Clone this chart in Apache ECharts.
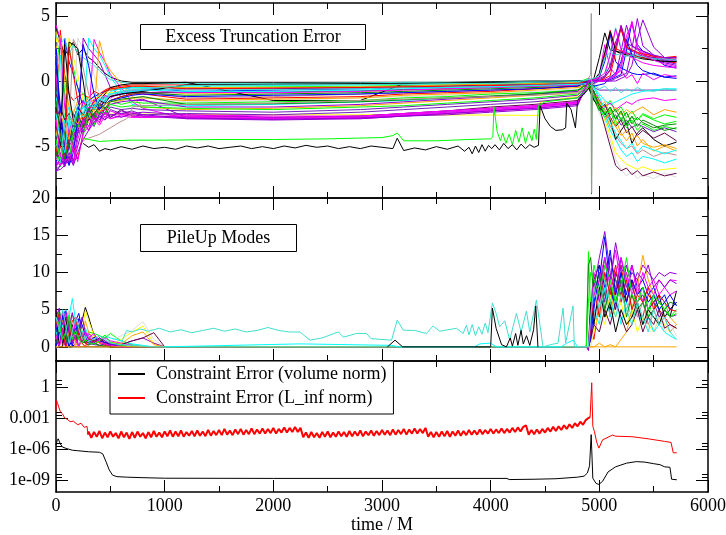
<!DOCTYPE html>
<html><head><meta charset="utf-8">
<script src="https://cdn.jsdelivr.net/npm/echarts@6/dist/echarts.min.js"></script>
<style>html,body{margin:0;padding:0;background:#fff}#c{width:726px;height:535px}</style>
</head><body><div id="c"></div>
<script>
// ---------- DATA ----------
const xTickLabels = [0, 1000, 2000, 3000, 4000, 5000, 6000];
const truncTickValues = [-5, 0, 5];
const pileTickValues = [0, 5, 10, 15, 20];
const constraintTickExponents = [-9, -6, -3, 0];
const constraintTickLabels = ['1e-09', '1e-06', '0.001', '1'];

// Excess truncation error: common time grid and one value list per line
const truncTimes = [0,40,80,120,160,200,250,300,350,400,450,500,600,700,800,1200,2000,2800,3200,3600,4000,4400,4800,4900,4950,5000,5050,5100,5150,5200,5250,5300,5350,5400,5500,5600,5710];
const truncLines = [
 [4.2,3.0,2.0,2.5,3.0,2.0,2.5,1.8,1.5,1.0,0.6,0.3,0.0,-0.1,-0.1, -0.1,-0.1,-0.1,-0.1,-0.1,-0.05,0,0, 0,0.2,1.8,3.7,2.4,2.3,2.2,2.1,2.0,1.9,1.8,1.7,1.6,1.5],
 [-4,3.9,0.5,-1,-1.5,-1.2,-1,-1.3,-0.8,-1,-0.7,-0.5,-0.4,-0.3,-0.3, -0.3,-0.3,-0.25,-0.2,-0.2,-0.15,-0.1,-0.05, 0,0.1,0.3,2.0,3.9,2.5,2.3,2.2,2.0,1.9,1.8,1.6,1.5,1.4],
 [-5,-6.6,-3,2.5,1,-0.5,-1,-1.5,-1.2,-1,-0.8,-0.6,-0.5,-0.5,-0.4, -0.5,-0.45,-0.4,-0.35,-0.3,-0.25,-0.2,-0.1, 0.2,-1.0,-1.6,-2.0,-1.5,-2.4,-2.0,-2.8,-2.3,-3.0,-2.5,-2.9,-2.6,-2.8],
 [-6.5,-4,3.3,1.5,0.5,-0.5,-2,-1.5,-1.2,-1,-0.8,-0.7,-0.6,-0.5,-0.5, -0.8,-0.7,-0.6,-0.5,-0.5,-0.4,-0.3,-0.2, 0,-0.2,0.3,1.5,3.6,1.5,1.0,0.8,0.6,0.5,0.5,0.6,0.3,0.4],
 [3.8,-3,-4,3.3,1.8,0.5,-1.5,-2.5,-1.5,-1.2,-1,-0.9,-0.8,-0.7,-0.6, -1.0,-0.9,-0.8,-0.7,-0.6,-0.5,-0.4,-0.3, 0,-0.8,-1.6,-3.0,-4.2,-5.5,-6.0,-6.4,-6.6,-6.8,-6.6,-6.9,-6.8,-6.7],
 [-6,-6.3,-6.2,-3.5,3.2,2.5,1,-1,-2,-1.5,-1.3,-1.1,-1,-0.9,-0.8, -1.3,-1.2,-1.0,-0.9,-0.8,-0.7,-0.6,-0.4, 0,-1.0,-2.0,-2.6,-3.5,-4.2,-4.8,-5.2,-5.0,-5.6,-5.3,-5.8,-5.5,-5.7],
 [2,1,-5,-6.2,-3,3.3,2.5,1.5,0.5,-1,-2,-1.8,-1.5,-1.3,-1.2, -1.6,-1.5,-1.3,-1.2,-1.1,-0.9,-0.8,-0.6, 0,-1.3,-2.5,-3.3,-4.5,-6.0,-6.8,-7.3,-7.0,-7.5,-7.2,-7.5,-7.1,-7.4],
 [-4,-3.5,-4,-5,-6.2,-4,3.3,2.5,2,1.5,0.5,-0.5,-1.2,-1.5,-1.4, -2.8,-2.9,-2.8,-2.6,-2.4,-2.2,-2.0,-1.6, -0.5,-0.2,0,0.1,0.2,0.4,2.3,4.3,2.7,2.4,2.1,1.6,1.4,1.2],
 [-2,2,-4,-4.5,-4.5,-4,-3.5,3.3,2.5,2.0,1.2,0.3,-0.8,-1.8,-1.9, -1.9,-1.8,-1.6,-1.5,-1.3,-1.2,-1.0,-0.8, -0.3,-1.2,-2.0,-2.8,-3.8,-4.5,-5.3,-5.8,-5.5,-6.2,-5.8,-6.0,-6.3,-6.0],
 [0.5,-3,-4,-4.2,-4,-4,-3.8,-3,3.2,2.2,1.5,0.5,-0.5,-1.6,-2.1, -2.9,-2.9,-2.8,-2.6,-2.5,-2.3,-2.1,-1.8, 0.2,0,0.5,2.8,1.0,0.5,0.8,0.2,0.5,-0.2,0.6,0.1,0.5,0.3],
 [-3,-4,-4,-4,-3.8,-3.5,-3.5,-3.2,-2.5,3.1,1.5,0.8,-0.2,-1.2,-2.0, -2.2,-2.1,-1.9,-1.7,-1.5,-1.3,-1.1,-0.9, 0,-1.0,-1.8,-2.4,-3.5,-3.0,-4.0,-4.6,-4.0,-5.0,-4.5,-5.4,-5.0,-5.4],
 [-7,-6.5,-5,-4.5,-4.2,-4,-3.5,-2.8,-3.5,-2.5,-3,-2.2,-2.5,-2.3,-2.6, -2.5,-2.6,-2.4,-2.2,-2.0,-1.8,-1.6,-1.3, -0.3,-0.5,-0.7,-0.7,-0.7,-0.7,-0.7,-0.7,-0.7,-0.7,-0.7,-0.7,-0.7,-0.7],
 [-6.5,-6,-6.5,-4.5,-4,-3.8,-3,-3.8,-2.8,-3.2,-2,-2.8,-2.2,-2.7,-2.8, -2.7,-2.8,-2.7,-2.5,-2.3,-2.0,-1.8,-1.5, -0.2,-1.0,-2.0,-3.5,-5.0,-6.5,-6.9,-6.7,-7.2,-6.9,-7.3,-7.0,-7.3,-7.1],
 [3.5,2.8,3.3,2.0,2.8,2.2,1.8,1.5,1.2,0.8,0.4,0.1,-0.1,-0.2,-0.2, -0.2,-0.2,-0.15,-0.1,-0.1,-0.1,-0.05,0, 0,0,0.1,0.3,2.1,4.1,2.6,2.3,2.1,2.0,1.9,1.7,1.6,1.6],
 [-5.5,-6,-4,-4.5,-3,-3.5,-2.5,-3,-2,-2.5,-1.8,-1.5,-1.2,-1.0,-0.9, -1.1,-1.0,-0.9,-0.8,-0.7,-0.6,-0.5,-0.4, -0.4,-1.4,-2.3,-1.8,-2.6,-2.2,-3.0,-2.4,-3.3,-2.8,-3.2,-3.6,-3.4,-3.3],
 [-2,-3.5,-4,3.0,2.8,2.5,0,-3,-2,-1.5,-1,-0.5,-0.3,-0.2,-0.2, -0.1,-1.5,-1.5,-0.2,-0.2,-0.15,-0.1,-0.05, -0.5,-1.5,-2.0,-2.5,-3.0,-4.5,-3.8,-3.2,-4.8,-4.0,-3.6,-4.5,-5.0,-4.7],
 [-6,-5,-6.2,-4,-5,-6,-4,-2.5,-3.0,-2.0,-2.5,-1.5,-1.2,-1.0,-1.0, -1.4,-1.3,-1.2,-1.0,-0.9,-0.8,-0.6,-0.4, 0,0,0,0.2,0.4,2.2,4.2,2.6,2.4,2.2,2.0,1.8,1.7,1.8],
 [1,3.3,-1,-3,-3.5,-2,-3,-2.2,-2.6,-1.8,-2.2,-1.5,-1.8,-1.6,-1.7, -1.7,-1.6,-1.5,-1.3,-1.2,-1.0,-0.9,-0.7, -0.5,-0.3,-1.5,-2.5,-2.0,-3.0,-2.4,-3.2,-2.8,-3.0,-2.6,-3.0,-3.3,-3.1],
 [3,-4,-6.5,-5,-3,-2,-1.5,-2.8,-1.8,-2.2,-1.5,-1.2,-1.0,-0.8,-0.7, -0.6,-0.6,-0.5,-0.4,-0.4,-0.3,-0.25,-0.15, 0,0,0,0,0.1,0.3,0.5,2.4,4.5,2.8,2.3,1.9,1.2,1.0],
 [-6.8,-6.5,-6,-6.4,-5,-4,-2.8,-3.5,-2.5,-3.0,-2.4,-2.8,-2.3,-2.5,-2.4, -2.6,-2.8,-2.7,-2.5,-2.3,-2.1,-1.9,-1.6, 0,0,0,0,0,0.2,0.4,0.6,2.5,4.8,2.7,2.0,1.5,1.3],
 [-4,-5,-3,-2,-3,-2.5,-2,-1.5,-2,-1,-1.4,-0.8,-0.6,-0.5,-0.5, -0.4,-0.35,-0.3,-0.25,-0.2,-0.2,-0.1,0, -0.2,-0.5,-1.0,-1.5,-1.8,-1.6,-1.4,-1.2,-1.0,-0.9,-0.8,-0.7,-0.6,-0.6],
 [-6.2,-6.5,-5.5,-6.3,-4.8,-3.5,-2.5,-2,-3,-2.2,-2.8,-2.3,-2.6,-2.4,-2.7, -2.8,-2.9,-2.9,-2.7,-2.5,-2.3,-2.0,-1.7, -0.3,-0.8,-1.5,-2.0,-1.7,-2.2,-1.9,-1.6,-1.8,-1.5,-1.4,-1.3,-1.5,-1.4],
 [2.5,3.5,0,-2,-2.5,-1.5,-2,-1.2,-1.6,-1.0,-0.9,-0.7,-0.5,-0.4,-0.4, -0.5,-0.5,-0.45,-0.4,-0.3,-0.25,-0.2,-0.1, 0,-1.0,-2.0,-1.6,-2.5,-2.0,-2.6,-2.2,-2.5,-2.2,-2.0,-2.6,-2.2,-2.4],
 [-3,-2,-5,-6.3,-4,-3,-3.3,-2.5,-3,-2.4,-2.6,-2.0,-2.2,-2.1,-2.2, -2.3,-2.4,-2.2,-2.0,-1.8,-1.6,-1.4,-1.1, -0.2,-1.2,-1.8,-2.2,-3.0,-2.6,-3.4,-3.0,-3.6,-3.3,-3.5,-3.9,-3.6,-3.9],
 [-1,-2,-3,-2.5,-3.5,-2.5,-3.5,-3,-2.5,-2,-1.5,-1.2,-1,-0.9,-0.9, -0.9,-0.85,-0.75,-0.65,-0.6,-0.5,-0.4,-0.3, 0,-0.8,-2.2,-1.8,-2.8,-3.5,-3.0,-4.0,-3.5,-4.2,-3.8,-4.4,-4.0,-4.6],
 [-5,-4,-4.5,-3.5,-2.5,-3,-2,-2.5,-1.5,-1.8,-1.2,-1.0,-0.8,-0.6,-0.6, -0.7,-0.65,-0.6,-0.5,-0.45,-0.4,-0.3,-0.2, 0.1,-0.3,-0.6,-0.4,-0.8,-0.5,-0.9,-0.6,-0.8,-0.5,-0.7,-0.8,-0.6,-0.7],
 [-6,-5.5,-6.5,-5,-4.5,-3,-4,-2.8,-3.2,-2.6,-2.2,-1.8,-1.6,-1.5,-1.5, -2.0,-2.0,-1.8,-1.6,-1.4,-1.2,-1.0,-0.8, 0,0,0.2,0.4,1.2,3.0,4.0,2.5,2.3,2.1,1.9,1.8,1.6,1.7],
 [4.3,3.2,-2,-4,-2.5,-3.2,-1.5,-2.4,-1.4,-1.9,-1.1,-1.3,-0.9,-0.7,-0.7, -0.9,-0.9,-0.8,-0.7,-0.6,-0.5,-0.4,-0.3, 0,0,0,0,0.2,0.4,1.0,3.0,4.6,2.6,2.2,1.9,1.7,1.5],
 [-3.5,-5,2.8,-1,-3,-2,-2.6,-1.8,-2.2,-1.5,-1.7,-1.2,-1.0,-0.9,-0.8, -0.3,-0.25,-0.2,-0.2,-0.15,-0.1,-0.1,0, 0,0.1,0.6,2.2,3.8,2.3,2.1,2.0,1.9,1.8,1.7,1.6,1.5,1.5],
 [-5.5,-4,-6,2.6,0.5,-1.5,-3,-2.2,-1.6,-1.2,-0.8,-0.6,-0.5,-0.4,-0.4, -0.6,-0.55,-0.5,-0.45,-0.4,-0.35,-0.3,-0.2, 0,0,0,0.3,0.8,2.6,4.1,2.6,2.4,2.2,2.1,1.9,1.8,1.9],
 [-4.5,-6,-5,-6,-4,-3.3,-4.2,-2.5,-3.4,-2.2,-2.6,-1.8,-2.0,-1.9,-2.0, -2.1,-2.2,-2.0,-1.9,-1.7,-1.5,-1.3,-1.0, -0.3,-1.1,-2.2,-2.8,-2.2,-3.4,-2.8,-3.6,-3.0,-3.8,-3.3,-3.8,-3.5,-3.7],
 [1.5,-2,-5.5,-6.5,-5.5,-3,2.8,1.2,-1,-2.2,-1.8,-1.5,-1.3,-1.1,-1.0, -1.2,-1.1,-1.0,-0.9,-0.8,-0.7,-0.6,-0.4, 0,-0.4,-0.3,-0.2,0.3,0.6,1.5,3.2,2.0,1.2,0.8,0.5,0.3,0.2],
 [-6.6,-6,-6.6,-5.5,-6.3,-5,-3.5,-2.2,-3.0,-2.8,-2.5,-2.6,-2.5,-2.6,-2.7, -2.9,-3.0,-2.9,-2.7,-2.6,-2.4,-2.2,-1.9, 0,0,0,0,0,0,0.2,0.4,1.2,3.2,4.7,2.6,1.8,1.6],
 [-2.5,-4.5,-5.5,-3,-4,-2.2,-2.8,-1.8,-2.2,-1.4,-1.6,-1.0,-0.9,-0.8,-0.7, -0.8,-0.8,-0.7,-0.6,-0.5,-0.45,-0.35,-0.25, -0.2,-0.6,-1.2,-2.2,-3.2,-4.0,-4.6,-5.2,-4.8,-5.5,-5.0,-5.3,-5.6,-5.3],
 [-6.4,-6.2,-6.5,-6,-5.2,-6.2,-4,-3.5,-2.6,-3.2,-2.4,-2.9,-2.6,-2.7,-2.8, -2.7,-2.85,-2.8,-2.6,-2.4,-2.2,-2.0,-1.7, 0,0.1,0.3,0.6,2.0,4.0,2.4,2.1,1.8,1.6,1.4,1.2,1.1,1.0],
 [-4.2,-2.5,-3.5,-4.5,-2.8,-3.3,-2.5,-2.9,-2.0,-2.4,-1.8,-1.6,-1.5,-1.3,-1.3, -1.5,-1.4,-1.3,-1.1,-1.0,-0.9,-0.7,-0.5, -0.3,-1.0,-1.6,-2.2,-2.9,-3.5,-4.2,-3.8,-4.5,-4.2,-4.8,-5.1,-4.9,-5.2],
 [-1.5,-4.2,-6,-4.8,-3.8,-2.6,-3.6,-2.1,-2.8,-1.7,-2.1,-1.6,-1.4,-1.3,-1.2, -1.8,-1.75,-1.6,-1.45,-1.3,-1.15,-1.0,-0.7, -0.2,-0.9,-1.8,-2.6,-2.0,-2.9,-2.3,-3.4,-2.7,-3.5,-3.0,-3.4,-3.8,-3.6],
 [-5.8,-6.3,-3.5,-2.6,-3.4,-1.8,-2.5,-1.6,-2.0,-1.3,-1.5,-1.0,-0.8,-0.7,-0.6, -0.35,-0.3,-0.28,-0.25,-0.2,-0.18,-0.1,-0.05, 0.1,0.2,0.4,1.8,2.2,2.0,2.1,1.9,2.0,1.8,1.9,1.7,1.7,1.6],
 [-3,-5.8,-6.2,-5.8,-6.4,-4.5,-3,-3.8,-2.9,-3.4,-2.7,-2.9,-2.7,-2.8,-2.8, -2.6,-2.7,-2.7,-2.5,-2.3,-2.1,-1.9,-1.6, 0,0,0,0,0.2,0.5,1.3,3.5,4.4,2.5,2.0,1.6,1.3,1.1],
 [-6.9,-6.8,-6.5,-5.8,-6.5,-5.5,-4.5,-3.8,-3.2,-2.7,-3.0,-2.6,-2.8,-2.5,-2.6, -2.85,-2.95,-2.85,-2.7,-2.5,-2.3,-2.1,-1.8, 0,0,0.1,0.3,0.9,2.6,4.3,2.9,2.7,2.5,2.3,2.0,1.8,1.8]
];
const truncColors = ['#000000','#ff0000','#00ff00','#0000ff','#ffff00','#bc8f8f','#dcdcdc','#9400d3','#00ffff','#ff00ff','#ffa500','#7221bc','#670748','#40e0d0','#008b00','#000000','#ff0000','#00ff00','#0000ff','#9400d3','#00ffff','#ff00ff','#ffa500','#7221bc','#670748','#40e0d0','#9400d3','#ff00ff',
 '#000000','#ff0000','#00ff00','#0000ff','#9400d3','#00ffff','#ff00ff','#ffa500','#008b00','#40e0d0','#ff00ff','#9400d3'];

const truncYellowLine = [[380,-2.55],[1000,-2.55],[2000,-2.6],[3000,-2.6],[4000,-2.62],[4450,-2.65],[4460,-1.6],[4800,-1.2],[4900,-0.6]];
const truncBrownLine = [[250,-4.6],[300,-4.4],[400,-4.1],[500,-3.6],[590,-3.15],[650,-2.9],[690,-2.6],[700,-2.0],[800,-1.9],[1200,-1.8],[2000,-1.7],[2800,-1.5],[3600,-1.3],[4400,-1.1],[4800,-0.9],[4900,-0.4]];
const truncLowGreen = [[250,-4.4],[300,-4.5],[400,-4.65],[500,-4.6],[700,-4.55],[1000,-4.55],[1500,-4.5],[2000,-4.5],[2500,-4.45],[3000,-4.35],[3100,-4.2],[3140,-4.0],[3200,-4.6],[3500,-4.6],[3800,-4.5],[4000,-4.45],[4020,-4.3],[4030,-2.0],[4060,-3.9],[4090,-4.6],[4110,-4.0],[4140,-4.8],[4170,-4.1],[4200,-4.9],[4230,-3.8],[4260,-4.7],[4290,-3.6],[4320,-4.8],[4350,-3.9],[4380,-4.6],[4400,-3.7],[4420,-4.5],[4440,-1.9],[4500,-1.6],[4700,-1.4],[4800,-1.3],[4900,-0.5]];
const truncLowBlack = [[250,-4.8],[300,-5.1],[350,-4.9],[400,-5.4],[450,-5.2],[500,-5.3],[600,-5.05],[700,-5.25],[800,-5.0],[900,-5.2],[1000,-5.1],[1100,-5.25],[1200,-5.0],[1300,-5.15],[1400,-5.0],[1500,-5.2],[1600,-5.1],[1700,-5.0],[1800,-5.2],[1900,-5.05],[2000,-5.2],[2100,-5.0],[2200,-5.15],[2300,-4.95],[2400,-5.1],[2500,-5.0],[2600,-5.2],[2700,-5.05],[2800,-5.2],[2900,-5.0],[3000,-5.1],[3100,-5.2],[3140,-4.4],[3200,-5.35],[3300,-5.15],[3400,-5.3],[3500,-5.05],[3600,-5.25],[3700,-5.0],[3760,-5.4],[3800,-5.1],[3830,-5.6],[3860,-5.0],[3890,-5.5],[3920,-4.9],[3950,-5.4],[3980,-4.95],[4010,-5.2],[4040,-4.9],[4080,-5.3],[4120,-4.8],[4160,-5.2],[4200,-4.9],[4240,-5.3],[4280,-4.85],[4320,-5.2],[4360,-4.9],[4400,-5.1],[4440,-4.95],[4455,-1.9],[4500,-2.9],[4550,-3.5],[4600,-3.8],[4660,-3.75],[4690,-3.6],[4700,-1.7],[4740,-2.2],[4780,-3.6],[4800,-1.5],[4850,-1.1],[4900,-0.6],[4920,-0.4]];
const truncSpikeGrey = [[4900,0.2],[4920,0.5],[4926,5.2],[4929,-8.6],[4935,0.0],[4960,-0.3]];
const truncSpikeGreen = [[4900,-0.3],[4925,-0.5],[4928,-8.7],[4932,-1.0],[4960,-0.8]];

// PileUp modes
const pileTimes = [0,30,60,90,120,150,180,210,240,270,300,350,400,450,500,600,700,800,900,1000,4880,4900,4920,4950,5000,5050,5100,5150,5200,5250,5300,5350,5400,5450,5500,5550,5600,5650,5710];
const pileLines = [
 [0,5.0,5.0,0,0,0,0.5,2,3.5,5.3,4.0,1.5,1.0,0.5,0,0,0,0,0,0, 0,0,3,9,11,7,5,10,8,6,9,7,8,5,6,7,4,5,6],
 [4.5,2,0,3.5,4.8,1,0,2.5,1.5,0.5,0.2,1.0,0.5,0.2,0,0,0,0,0,0, 0,0,3.5,1,6,9,4,8,11,6,9,5,4,7,6,5,4,3,2.5],
 [2,4.8,3.5,0.5,2,4.5,3,1,0.5,1.5,2.0,1.8,1.5,1.2,1.8,0.8,0.3,0,0,0, 0,12.8,5,11,8,12,6,9,7,10,5,8,6,4,7,5,6,4,5],
 [3,0,4,5,2,0,3.5,4.5,2,1,0.5,0.8,0.6,0.4,0.2,0,0,0,0,0, 0,0,2,6,9,14.8,8,5,10,7,11,8,9,7,8,6,7,5,6],
 [0,1,0,2,3,1,0.5,0,2,4.9,3.5,1.5,0.8,0.5,0.3,1.0,2.0,2.8,0.5,0, 0,0,0,2,5,3,7,4,6,3,5,2,4,3,2,4,3,2,3],
 [1,3,2,0.5,0,1.5,3.5,2,0.5,0,0.2,0.8,1.5,0.8,0.3,0.5,0.2,0,0,0, 0,0,1,4,7,5,9,6,8,5,7,4,6,3,5,3,4,2,3],
 [0,0,1,3,5,2,0,1,2.5,1,0.5,0.3,0.8,0.5,0.8,1.5,2.2,3.4,1.0,0, 0,0,0,3,6,4,8,11,7,5,4,6,3,5,2,4,2,3,1.5],
 [4,5.2,1,0,2.5,4.6,2,0,1,2,1.5,0.6,0.2,0.3,0.5,0.3,0.8,1.2,0.5,0, 0,-0.5,4,8,12,15.5,10,7,12,8,10,9,11,10,9,10,9.5,10,9.8],
 [2,1,3,5,4,6.5,3.5,1,2,2.5,1.5,1.2,1.0,1.5,1.2,0.8,0.4,0.2,0,0, 0,0,2,5,3,8,4,7,3,6,4,5,3,4,2,3,2,1.5,1],
 [5,3,4.5,1,3,0.5,4,3.5,1,0.5,1.8,1.0,0.5,1.2,0.8,0.5,0.2,0,0,0, 0,0,5,10,6,11,9,13,8,10,7,9,6,8,7,9,8,9,8.9],
 [0.5,2,3.5,4,1,2,0.5,0,1,3.5,2,1,0.5,0.3,0.6,0.4,1.5,2.0,0.3,0, 0,0,0,0,0.5,0,0.3,0,1,2,5,8,12.3,9,7,6,5,4,3],
 [3.5,4,0.5,2.5,3.5,1.5,2.5,1,0.5,0.8,0.5,0.3,0.2,0.4,0.2,0.1,0,0,0,0, 0,0,3,7,10,6,12,9,7,11,8,6,7,5,6,4,5,4,4.3],
 [1,0,2.5,1,0.5,3,1,2,0.8,0.5,1,0.8,1.2,0.6,0.4,0.3,0.8,1.2,1.9,0, 0,0,1,3,2,5,3,6,4,2,3,5,2,4,3,5,2.5,3,2.5],
 [0,3,1.5,0.5,4,2,1,3,1.5,0.5,0.3,0.5,0.2,0.1,0,0,0,0,0,0, 0,11,12,7,10,5,8,6,9,4,7,5,6,4,5,6,5,6,5.7],
 [5,0,0,4,0,0,0,0,0,0,0,0,0,0,0,0,0,0,0,0, 0,0,6,3,8,4,6,2,5,3,4,6,3,5,4,3,5,4,7.5],
 [3,4.5,2,0,1,3.5,4,1.5,0.5,0,1.2,0.6,1.0,0.4,0.2,0,0,0,0,0, 0,0,2,8,4,10,7,11,6,9,5,7,6,8,5,7,6,5,4.8],
 [0,2,4.2,3,0,1,2,3.8,3,1.5,0.5,1.3,0.8,0.6,0.3,0,0,0,0,0, 0,0,1,5,11,8,13,7,10,6,9,7,8,6,7,5,6,7,5.5],
 [2.5,4,3,4.8,2,0.5,1.5,2,4,2,0.8,0.5,1.2,0.8,0.4,0.2,0,0,0,0, 0,-0.3,3,9,7,12,9,14,10,11,8,10,9,11,8,9,8,9,8.5],
 [1.5,0,2,4.5,3.5,2.5,1,0,1.5,2,1.2,1.8,0.6,0.4,0.2,0,0,0,0,0, 0,0,4,7,9,12,8,10,12,9,11,7,10,8,9,7,8,7,7.5],
 [4,3,1,2,4.2,1,2.2,1,0.5,1,0.6,0.4,0.8,1.6,0.6,0.2,0,0,0,0, 0,6,10,9,7,11,9,6,8,12,7,6,8,5,7,6,5,4,4.5],
 [0,0,0,0,0,0,0,0,0,0,0,0,0,0,0,0,0,0,0,0, 0,0,0,0,0,0,0,0,0,0,0,0,0,0,0,0,0,0,0],
 [4,2,5,3,0.5,2,4,2.5,1,1.5,0.8,1.0,1.5,1.0,0.5,0.3,0.2,0.1,0,0, 0,0,4,8,5,9,6,4,7,5,3,6,4,2,5,3,4,2,1]
];
const pileColors = ['#000000','#ff0000','#00ff00','#0000ff','#ffff00','#bc8f8f','#dcdcdc','#9400d3','#00ffff','#ff00ff','#ffa500','#7221bc','#670748','#008b00','#000000','#ff0000','#0000ff','#9400d3','#ff00ff','#00ff00','#ffa500','#40e0d0'];
const pileTurquoiseLong = [[600,0.5],[650,2.2],[700,2.0],[780,2.4],[850,2.1],[950,2.5],[1050,2.0],[1150,2.3],[1250,1.9],[1350,2.2],[1450,2.5],[1550,2.1],[1650,2.4],[1750,2.0],[1850,2.2],[1950,2.6],[2050,2.2],[2150,2.0],[2245,2.0],[2337,0.9],[2450,1.2],[2598,2.0],[2644,1.3],[2766,1.8],[2858,1.8],[2900,1.1],[3088,0.9],[3140,3.6],[3195,2.25],[3300,2.2],[3409,1.8],[3470,2.8],[3532,2.1],[3685,2.5],[3746,1.8],[3777,2.9],[3800,1.6],[3830,3.0],[3860,1.5],[3890,2.7],[3920,1.7],[3950,3.2],[3975,1.9],[4016,5.9],[4050,4.5],[4083,2.7],[4130,3.5],[4175,0.9],[4237,4.5],[4280,2.0],[4329,4.8],[4360,2.0],[4421,6.3],[4482,0],[4550,0.3],[4620,0.5],[4666,5.2],[4690,0.5],[4758,5.5],[4770,0],[4900,0]];
const pileCyanLow = [[1000,0],[2245,0.4],[3088,0.2],[3150,0],[3850,0],[3900,0.4],[4000,0.5],[4050,0],[4650,0],[4700,0.5],[4760,0.9],[4800,0]];
const pileBlackSpikes = [[3050,0],[3120,0.9],[3190,0],[4000,0],[4016,5.2],[4050,2.5],[4100,0.3],[4145,0],[4180,1.2],[4200,0.1],[4230,1.8],[4250,0.2],[4280,2.2],[4300,0.4],[4330,1.5],[4360,0.2],[4395,2.3],[4415,5.5],[4435,0]];

// Constraint errors, stored as log10 of the error
const constraintVolumeLog10 = [[0,-5.6],[10,-5.2],[20,-5.0],[40,-5.5],[60,-5.8],[100,-5.95],[150,-6.1],[200,-6.15],[300,-6.25],[400,-6.3],[430,-6.45],[460,-7.2],[490,-8.0],[520,-8.5],[560,-8.65],[650,-8.7],[800,-8.75],[1000,-8.8],[2000,-8.82],[3000,-8.82],[4150,-8.82],[4170,-8.93],[4400,-8.9],[4600,-8.85],[4800,-8.7],[4860,-8.6],[4890,-8.3],[4910,-7.6],[4925,-4.6],[4930,-6.0],[4940,-8.8],[4970,-9.3],[4996,-9.4],[5030,-9.1],[5080,-8.2],[5150,-7.7],[5250,-7.35],[5340,-7.2],[5420,-7.25],[5500,-7.4],[5560,-7.5],[5600,-7.7],[5650,-7.75],[5665,-8.9],[5713,-8.95]];
const constraintLinfStartLog10 = [[0,-2.3],[5,-1.3],[15,-1.6],[25,-1.5],[40,-2.4],[60,-2.6],[80,-3.0],[100,-3.1],[130,-3.35],[160,-3.3],[200,-3.65],[230,-3.5],[260,-3.9],[285,-3.8],[295,-4.6]];
// noisy stretch sampled every 25 M from t = 300 to t = 4900
const constraintLinfBandStart = 300;
const constraintLinfBandStep = 25;
const constraintLinfBandLog10 = [
 -4.3,-4.9,-4.35,-4.8,-4.25,-4.95,-4.4,-4.85, -4.3,-4.8,-4.45,-4.95,-4.3,-4.85,-4.4,-5.0,
 -4.35,-4.9,-4.3,-4.8,-4.45,-4.95,-4.35,-4.85, -4.25,-4.8,-4.4,-4.85,-4.3,-4.75,-4.2,-4.8,
 -4.3,-4.75,-4.2,-4.8,-4.35,-4.7,-4.25,-4.75, -4.2,-4.7,-4.3,-4.75,-4.15,-4.7,-4.25,-4.65,
 -4.15,-4.65,-4.05,-4.6,-4.2,-4.65,-4.1,-4.55, -4.05,-4.6,-4.15,-4.55,-4.0,-4.55,-4.1,-4.5,
 -4.0,-4.5,-4.05,-4.45,-3.95,-4.5,-4.05,-4.4, -3.9,-4.4,-3.95,-4.35,-3.85,-4.35,-3.95,-4.85,
 -4.4,-4.9,-4.35,-4.85,-4.45,-4.9,-4.35,-4.8, -4.3,-4.85,-4.4,-4.8,-4.3,-4.75,-4.35,-4.8,
 -4.25,-4.75,-4.3,-4.7,-4.2,-4.75,-4.3,-4.65, -4.2,-4.7,-4.25,-4.65,-4.15,-4.6,-4.2,-4.65,
 -4.1,-4.6,-4.15,-4.55,-4.05,-4.6,-4.1,-4.5, -4.0,-4.5,-4.05,-4.45,-3.95,-4.8,-4.35,-4.85,
 -4.35,-4.8,-4.3,-4.75,-4.25,-4.8,-4.3,-4.7, -4.2,-4.7,-4.25,-4.65,-4.15,-4.6,-4.2,-4.6,
 -4.1,-4.55,-4.15,-4.5,-4.05,-4.5,-4.1,-4.45, -4.0,-4.45,-4.05,-4.4,-3.95,-4.35,-3.9,-4.3,
 -3.85,-3.7,-4.6,-4.15,-4.55,-4.1,-4.5,-4.05, -4.4,-3.95,-4.3,-3.85,-4.25,-3.8,-4.15,-3.7,
 -4.05,-3.6,-3.95,-3.5,-3.8,-3.35,-3.65,-3.2, -3.0];
const constraintLinfEndLog10 = [[4915,-2.9],[4930,0.4],[4940,-3.8],[4955,-4.3],[4975,-5.3],[4996,-5.9],[5030,-5.1],[5100,-4.75],[5120,-4.65],[5150,-4.75],[5300,-4.8],[5450,-5.0],[5600,-5.25],[5660,-5.35],[5680,-6.35],[5713,-6.35]];

// ---------- CHART ----------
const FONT = 'Liberation Serif';
const chart = echarts.init(document.getElementById('c'), null, {renderer: 'canvas', width: 726, height: 535});

function xAxisPair(gridIndex, withLabels) {
  const base = {
    type: 'value', gridIndex: gridIndex, min: 0, max: 6000, interval: 1000,
    axisLine: {show: true, onZero: false, lineStyle: {color: '#000', width: 1.5}},
    axisTick: {show: true, inside: true, length: 12, lineStyle: {color: '#000', width: 1}},
    minorTick: {show: true, splitNumber: 2, length: 6, lineStyle: {color: '#000', width: 1}},
    splitLine: {show: false}, minorSplitLine: {show: false}
  };
  const bottom = Object.assign({}, base, {
    position: 'bottom',
    axisLabel: withLabels ? {show: true, color: '#000', fontFamily: FONT, fontSize: 18, margin: 5,
      customValues: xTickLabels, formatter: function (v) { return String(v); }} : {show: false}
  });
  if (withLabels) {
    bottom.name = 'time / M';
    bottom.nameLocation = 'middle';
    bottom.nameGap = 23;
    bottom.nameTextStyle = {color: '#000', fontFamily: FONT, fontSize: 18};
  }
  const top = Object.assign({}, base, {position: 'top', axisLabel: {show: false}});
  return [bottom, top];
}

function yAxisSet(gridIndex, min, max, major, minor, fmt) {
  const common = {type: 'value', gridIndex: gridIndex, min: min, max: max,
    splitLine: {show: false}, minorTick: {show: false}, minorSplitLine: {show: false}};
  const line = {show: true, onZero: false, lineStyle: {color: '#000', width: 1.5}};
  const tickStyle = {color: '#000', width: 1};
  return [
    Object.assign({}, common, {position: 'left', axisLine: line,
      axisTick: {show: true, inside: true, length: 12, customValues: major, lineStyle: tickStyle},
      axisLabel: {show: true, customValues: major, formatter: fmt, color: '#000', fontFamily: FONT, fontSize: 18, margin: 6}}),
    Object.assign({}, common, {position: 'right', axisLine: line,
      axisTick: {show: true, inside: true, length: 12, customValues: major, lineStyle: tickStyle},
      axisLabel: {show: false}}),
    Object.assign({}, common, {position: 'left', axisLine: {show: false, onZero: false},
      axisTick: {show: true, inside: true, length: 6, customValues: minor, lineStyle: tickStyle},
      axisLabel: {show: false}}),
    Object.assign({}, common, {position: 'right', axisLine: {show: false, onZero: false},
      axisTick: {show: true, inside: true, length: 6, customValues: minor, lineStyle: tickStyle},
      axisLabel: {show: false}})
  ];
}

const constraintMinor = [];
constraintTickExponents.concat([-12]).forEach(function (e) { constraintMinor.push(e + 0.3, e + 0.6); });

const xAxes = [].concat(xAxisPair(0, false), xAxisPair(1, false), xAxisPair(2, true));
const yAxes = [].concat(
  yAxisSet(0, -9, 6, truncTickValues, [-7.5, -2.5, 2.5], function (v) { return String(v); }),
  yAxisSet(1, -1.9, 20, pileTickValues, [2.5, 7.5, 12.5, 17.5], function (v) { return String(v); }),
  yAxisSet(2, -10.13, 2.5, constraintTickExponents, constraintMinor.filter(function (v) { return v > -10.13 && v < 2.5; }),
    function (v) { const i = constraintTickExponents.indexOf(Math.round(v)); return i >= 0 ? constraintTickLabels[i] : ''; })
);

function lineSeries(data, color, g, name, width) {
  const s = {type: 'line', xAxisIndex: 2 * g, yAxisIndex: 4 * g, data: data, symbol: 'none', showSymbol: false,
    connectNulls: false,
    lineStyle: {color: color, width: width || 1}, itemStyle: {color: color}, emphasis: {disabled: true},
    animation: false, silent: true};
  if (name) { s.name = name; s.itemStyle.opacity = 0; }
  return s;
}
function zip(times, vals) { return times.map(function (t, k) { return [t, vals[k]]; }); }

const series = [];
series.push(lineSeries(truncYellowLine, '#ffff00', 0));
truncLines.forEach(function (v, i) { series.push(lineSeries(zip(truncTimes, v), truncColors[i], 0)); });
series.push(lineSeries(truncBrownLine, '#bc8f8f', 0));
series.push(lineSeries(truncLowGreen, '#00ff00', 0));
series.push(lineSeries(truncLowBlack, '#000000', 0));
series.push(lineSeries(truncSpikeGreen, '#008b00', 0));
series.push(lineSeries(truncSpikeGrey, '#999999', 0));

pileLines.forEach(function (v, i) { series.push(lineSeries(zip(pileTimes, v), pileColors[i], 1)); });
series.push(lineSeries(pileCyanLow, '#00ffff', 1));
series.push(lineSeries(pileTurquoiseLong, '#40e0d0', 1));
series.push(lineSeries(pileBlackSpikes, '#000000', 1));

// L_inf norm: the thin start and end parts are one named series; the noisy stretch is drawn as a band
const linfBandData = constraintLinfBandLog10.map(function (v, k) { return [constraintLinfBandStart + k * constraintLinfBandStep, v]; });
const linfBandJoined = [constraintLinfStartLog10[constraintLinfStartLog10.length - 1]]
  .concat(linfBandData).concat([constraintLinfEndLog10[0]]);
const linfThin = constraintLinfStartLog10.concat([[constraintLinfBandStart, null]]).concat(constraintLinfEndLog10);
series.push(lineSeries(constraintVolumeLog10, '#000000', 2, 'Constraint Error (volume norm)'));
series.push(lineSeries(linfThin, '#ff0000', 2, 'Constraint Error (L_inf norm)'));
series.push(lineSeries(linfBandJoined, '#ff0000', 2, null, 2));

chart.setOption({
  backgroundColor: '#fff',
  animation: false,
  grid: [
    {left: 56, top: 3, width: 652, height: 195, outerBoundsMode: 'none'},
    {left: 56, top: 198, width: 652, height: 163, outerBoundsMode: 'none'},
    {left: 56, top: 361, width: 652, height: 131, outerBoundsMode: 'none'}
  ],
  xAxis: xAxes,
  yAxis: yAxes,
  legend: {
    orient: 'vertical', left: 110, top: 361, padding: [4, 7, 7, 7], itemGap: 6,
    itemWidth: 27, itemHeight: 14, borderColor: '#000', borderWidth: 1, backgroundColor: '#fff',
    selectedMode: false, itemStyle: {opacity: 0},
    textStyle: {fontFamily: FONT, fontSize: 18, color: '#000', padding: [0, 0, 0, 6]},
    data: ['Constraint Error (volume norm)', 'Constraint Error (L_inf norm)']
  },
  graphic: [
    {type: 'rect', z: 100, shape: {x: 140.5, y: 24.5, width: 225, height: 25}, style: {fill: '#fff', stroke: '#000', lineWidth: 1}},
    {type: 'text', z: 101, x: 253, y: 37, style: {text: 'Excess Truncation Error', font: '18px "Liberation Serif"', fill: '#000', align: 'center', verticalAlign: 'middle'}},
    {type: 'rect', z: 100, shape: {x: 140.5, y: 224.5, width: 156, height: 27}, style: {fill: '#fff', stroke: '#000', lineWidth: 1}},
    {type: 'text', z: 101, x: 218.5, y: 238, style: {text: 'PileUp Modes', font: '18px "Liberation Serif"', fill: '#000', align: 'center', verticalAlign: 'middle'}}
  ],
  series: series
});
</script>
</body></html>
